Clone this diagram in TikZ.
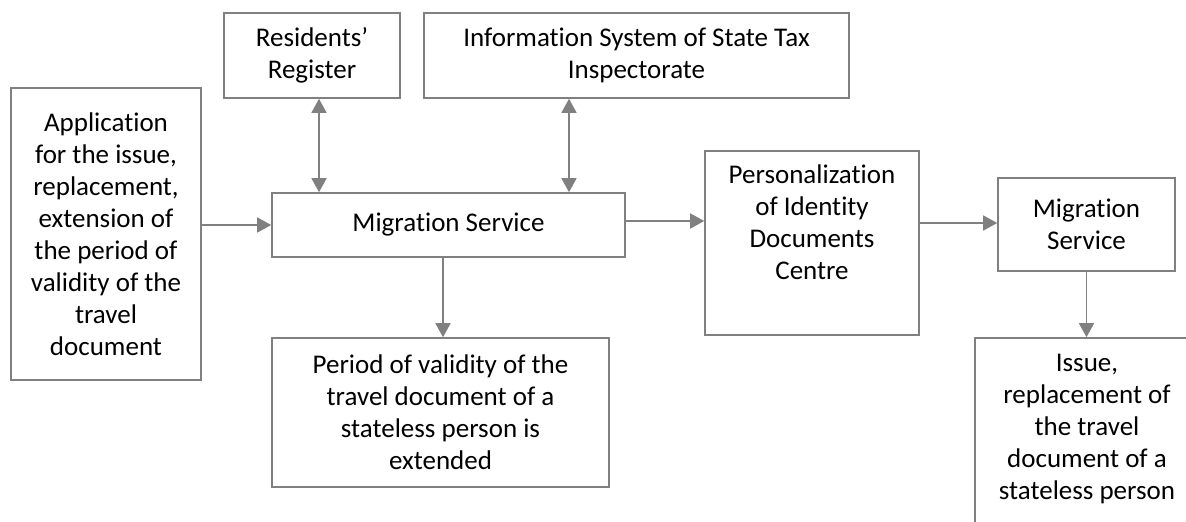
\documentclass[tikz,border=0pt]{standalone}
\usepackage{fontspec}
\setmainfont{Carlito}[Ligatures=NoCommon]
\usetikzlibrary{arrows.meta}
\definecolor{linegray}{HTML}{808080}
\tikzset{
  box/.style={draw=linegray, line width=1.6pt, fill=white, inner sep=0pt, align=center,
              font=\fontsize{27}{32}\selectfont},
  txt/.style={inner sep=0pt, align=center, font=\fontsize{27}{32}\selectfont},
  arr/.style={draw=linegray, line width=1.6pt, -{Triangle[length=14pt,width=15pt]}},
  darr/.style={draw=linegray, line width=1.6pt, {Triangle[length=14pt,width=15pt]}-{Triangle[length=14pt,width=15pt]}}
}
\begin{document}
\begin{tikzpicture}[x=1pt,y=-1pt]
\useasboundingbox (0,0) rectangle (1186,522);
\clip (0,0) rectangle (1186,522);
\fill[white] (0,0) rectangle (1186,522);

\node[box, minimum width=190pt, minimum height=292pt] (App) at (106,234)
  {Application\\for the issue,\\replacement,\\extension of\\the period of\\validity of the\\travel\\document};
\node[box, minimum width=176pt, minimum height=85pt] (Res) at (312,55.5)
  {Residents’\\Register};
\node[box, minimum width=425pt, minimum height=85pt] (Info) at (636.5,55.5)
  {Information System of State Tax\\Inspectorate};
\node[box, minimum width=353pt, minimum height=64pt] (Mig) at (448.5,225)
  {Migration Service};
\node[box, minimum width=337pt, minimum height=149pt] (Per) at (440.5,412.5)
  {Period of validity of the\\travel document of a\\stateless person is\\extended};
\node[box, minimum width=214pt, minimum height=184pt] (Pers) at (812,243) {};
\node[txt, anchor=north] (PersT) at (812,165)
  {Personalization\\of Identity\\Documents\\Centre};
\node[box, minimum width=177pt, minimum height=93pt] (MS) at (1086.5,224.5)
  {Migration\\Service};
\node[box, minimum width=224pt, minimum height=222pt] (Iss) at (1087,449) {};
\node[txt, anchor=north] (IssT) at (1087,354)
  {Issue,\\replacement of\\the travel\\document of a\\stateless person};

\draw[arr] (App.east |- Mig.west) -- (Mig.west);
\draw[darr] ([xshift=7pt]Res.south) -- ([xshift=7pt]Res.south |- Mig.north);
\draw[darr] ([xshift=-67.5pt]Info.south) -- ([xshift=-67.5pt]Info.south |- Mig.north);
\draw[arr] ([xshift=-5.5pt]Mig.south) -- ([xshift=-5.5pt]Mig.south |- Per.north);
\draw[arr] ([yshift=4pt]Mig.east) -- ([yshift=4pt]Mig.east -| Pers.west);
\draw[arr] ([yshift=1.5pt]Pers.east |- MS.west) -- ([yshift=1.5pt]MS.west);
\draw[arr] (MS.south) -- (MS.south |- Iss.north);
\end{tikzpicture}
\end{document}
